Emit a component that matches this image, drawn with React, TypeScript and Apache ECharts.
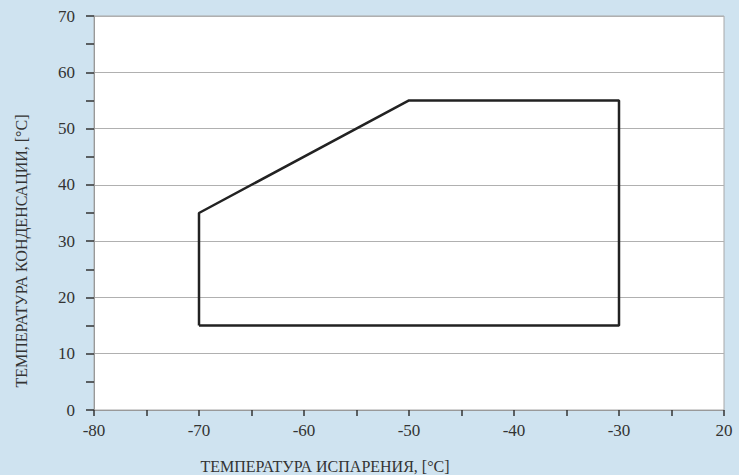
import React, { useEffect, useRef } from "react";
import * as echarts from "echarts";

const evapTemps = [-70, -70, -50, -30, -30, -70];
const condTemps = [15, 35, 55, 55, 15, 15];
const xTitle = "ТЕМПЕРАТУРА ИСПАРЕНИЯ, [°C]";
const yTitle = "ТЕМПЕРАТУРА КОНДЕНСАЦИИ, [°C]";

const FONT = "Liberation Serif, serif";
const labelRich = { a: { fontSize: 17, color: "#333333", fontFamily: FONT } };

export default function App() {
  const ref = useRef<HTMLDivElement>(null);
  useEffect(() => {
    if (!ref.current) return;
    const chart = echarts.init(ref.current, undefined, { renderer: "svg" });
    chart.setOption({
      animation: false,
      backgroundColor: "#cfe3f0",
      grid: {
        left: 94,
        top: 16,
        right: 15,
        bottom: 65,
        outerBoundsMode: "none",
        show: true,
        backgroundColor: "#ffffff",
        borderColor: "#a8a8a8",
        borderWidth: 1,
      },
      xAxis: {
        type: "value",
        min: -80,
        max: -20,
        interval: 10,
        axisLine: { show: true, lineStyle: { color: "#999999", width: 1 } },
        axisTick: { show: true, length: 6, lineStyle: { color: "#333333", width: 1.5 } },
        minorTick: { show: true, splitNumber: 2, length: 6, lineStyle: { color: "#333333", width: 1.5 } },
        splitLine: { show: false },
        axisLabel: {
          margin: 12,
          fontSize: 17,
          fontFamily: "serif",
          formatter: (v: number) => "{a|" + (v === -20 ? "20" : String(v)) + "}",
          rich: labelRich,
        },
      },
      yAxis: {
        type: "value",
        min: 0,
        max: 70,
        interval: 10,
        axisLine: { show: true, lineStyle: { color: "#999999", width: 1 } },
        axisTick: { show: true, length: 8, lineStyle: { color: "#333333", width: 1.5 } },
        minorTick: { show: true, splitNumber: 2, length: 8, lineStyle: { color: "#333333", width: 1.5 } },
        splitLine: { show: true, lineStyle: { color: "#b0b0b0", width: 1 } },
        axisLabel: {
          margin: 19,
          fontSize: 17,
          fontFamily: "serif",
          formatter: (v: number) => "{a|" + String(v) + "}",
          rich: labelRich,
        },
      },
      graphic: [
        {
          type: "text",
          x: 325,
          y: 466,
          style: {
            text: xTitle,
            fill: "#333333",
            fontFamily: FONT,
            fontSize: 16,
            align: "center",
            verticalAlign: "middle",
          },
        },
        {
          type: "text",
          x: 21,
          y: 251,
          rotation: Math.PI / 2,
          style: {
            text: yTitle,
            fill: "#333333",
            fontFamily: FONT,
            fontSize: 16,
            align: "center",
            verticalAlign: "middle",
          },
        },
      ],
      series: [
        {
          type: "line",
          data: evapTemps.map((x, i) => [x, condTemps[i]]),
          showSymbol: false,
          symbol: "none",
          lineStyle: { color: "#222222", width: 2.5 },
          z: 5,
        },
      ],
    });
    return () => chart.dispose();
  }, []);
  return (
    <div
      ref={ref}
      style={{ position: "fixed", left: 0, top: 0, width: 739, height: 475 }}
    />
  );
}
